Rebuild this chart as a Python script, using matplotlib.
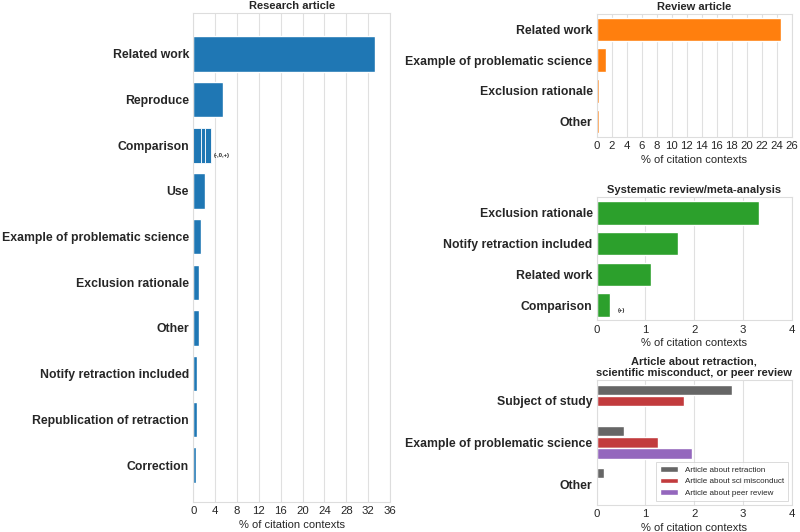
import numpy as np
import matplotlib
matplotlib.use("Agg")
import matplotlib.pyplot as plt
import seaborn as sns

sns.set_style("whitegrid")
plt.rcParams['font.family'] = ['Liberation Sans', 'DejaVu Sans']
plt.rcParams['axes.edgecolor'] = '#dddddd'
plt.rcParams['grid.color'] = '#e0e0e0'

# ---------------- data ----------------
research_cats = ["Related work", "Reproduce", "Comparison", "Use",
                 "Example of problematic science", "Exclusion rationale", "Other",
                 "Notify retraction included", "Republication of retraction", "Correction"]
research_vals = [33.3, 5.5, 3.3, 2.2, 1.35, 1.1, 1.0, 0.68, 0.62, 0.44]
comparison_parts = [1.41, 0.67, 1.22]  # negative, neutral, positive
comparison_note = "(-,0,+)"

review_cats = ["Related work", "Example of problematic science", "Exclusion rationale", "Other"]
review_vals = [24.6, 1.2, 0.35, 0.25]

sys_cats = ["Exclusion rationale", "Notify retraction included", "Related work", "Comparison"]
sys_vals = [3.33, 1.66, 1.11, 0.27]
sys_note = "(+)"

about_cats = ["Subject of study", "Example of problematic science", "Other"]
about_series = ["Article about retraction", "Article about sci misconduct", "Article about peer review"]
about_retraction = [2.78, 0.55, 0.14]
about_misconduct = [1.80, 1.25, 0.0]
about_peer = [0.0, 1.95, 0.0]

# ---------------- styling ----------------
BLUE = '#1f77b4'
ORANGE = '#ff7f0e'
GREEN = '#2ca02c'
GRAY = '#666666'
RED = '#c23b3d'
PURPLE = '#9467bd'
TXT = '#262626'

fig = plt.figure(figsize=(8, 5.32), dpi=100)

def style(ax, title, ticks, xlim):
    ax.set_title(title, fontsize=8, fontweight='bold', color=TXT, pad=3)
    ax.set_xlim(*xlim)
    ax.set_xticks(ticks)
    ax.tick_params(axis='x', labelsize=8.2, pad=3, colors=TXT, length=0)
    ax.tick_params(axis='y', labelsize=8.8, pad=3, length=0)
    for lab in ax.get_yticklabels():
        lab.set_fontweight('bold')
        lab.set_color(TXT)
    ax.set_xlabel("% of citation contexts", fontsize=8, color=TXT, labelpad=2.5)
    ax.grid(axis='y', visible=False)
    ax.grid(axis='x', color='#e0e0e0', linewidth=0.8)
    for s in ax.spines.values():
        s.set_color('#dddddd')
        s.set_linewidth(0.8)

# Research article
ax1 = fig.add_axes([0.2416, 0.0564, 0.2459, 0.9186])
y = np.arange(len(research_cats))
for i, (c, v) in enumerate(zip(research_cats, research_vals)):
    if c == "Comparison":
        left = 0
        for p in comparison_parts:
            ax1.barh(i, p, left=left, height=0.77, color=BLUE, edgecolor='white', linewidth=0.6)
            left += p
        ax1.text(left + 0.5, i + 0.23, comparison_note, fontsize=4.3, fontweight='bold',
                 va='center', ha='left', color=TXT)
    else:
        ax1.barh(i, v, height=0.77, color=BLUE)
ax1.set_yticks(y)
ax1.set_yticklabels(research_cats)
ax1.set_ylim(9.81, -0.89)
style(ax1, "Research article", np.arange(0, 37, 4), (0, 36))

# Review article
ax2 = fig.add_axes([0.7459, 0.7425, 0.2438, 0.2312])
y = np.arange(len(review_cats))
ax2.barh(y, review_vals, height=0.77, color=ORANGE)
ax2.set_yticks(y)
ax2.set_yticklabels(review_cats)
ax2.set_ylim(len(review_cats) - 0.5, -0.5)
style(ax2, "Review article", np.arange(0, 27, 2), (0, 26))

# Systematic review
ax3 = fig.add_axes([0.7459, 0.3976, 0.2438, 0.2312])
y = np.arange(len(sys_cats))
ax3.barh(y, sys_vals, height=0.77, color=GREEN)
ax3.text(sys_vals[-1] + 0.16, 3 + 0.17, sys_note, fontsize=4.3, fontweight='bold',
         va='center', ha='left', color=TXT)
ax3.set_yticks(y)
ax3.set_yticklabels(sys_cats)
ax3.set_ylim(len(sys_cats) - 0.5, -0.5)
style(ax3, "Systematic review/meta-analysis", np.arange(0, 5, 1), (0, 4))

# Article about retraction ...
ax4 = fig.add_axes([0.7459, 0.0508, 0.2438, 0.2350])
y = np.arange(len(about_cats))
h = 0.8 / 3
for k, (vals, col, name) in enumerate(zip([about_retraction, about_misconduct, about_peer],
                                          [GRAY, RED, PURPLE], about_series)):
    ax4.barh(y + (k - 1) * h, vals, height=h * 0.92, color=col, label=name)
ax4.set_yticks(y)
ax4.set_yticklabels(about_cats)
ax4.set_ylim(len(about_cats) - 0.5, -0.5)
style(ax4, "Article about retraction,\nscientific misconduct, or peer review", np.arange(0, 5, 1), (0, 4))
ax4.title.set_linespacing(1.1)
leg = ax4.legend(loc='lower right', fontsize=5.8, frameon=True, borderpad=0.5,
                 handlelength=2.2, labelspacing=0.5, fancybox=False)
leg.get_frame().set_edgecolor('#cccccc')
leg.get_frame().set_linewidth(0.6)

fig.savefig("out.png", dpi=100)
